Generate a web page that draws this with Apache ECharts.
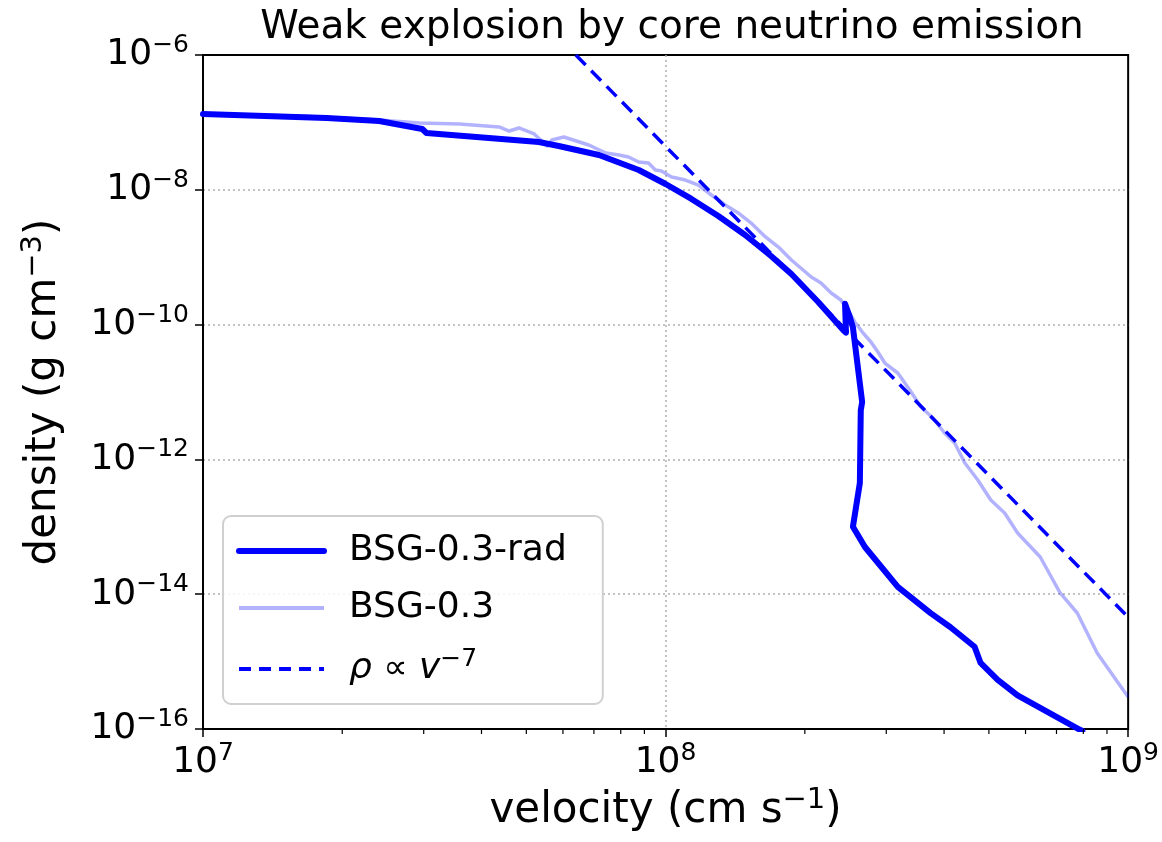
<!DOCTYPE html>
<html><head><meta charset="utf-8">
<script src="https://cdn.jsdelivr.net/npm/echarts@6/dist/echarts.min.js"></script>
<style>html,body{margin:0;padding:0;background:#fff}#c{width:1162px;height:842px}</style>
</head><body><div id="c"></div>
<script>
// log10 of velocity (cm/s) and density (g/cm^3)
const radLogV   = [7.000, 7.267, 7.381, 7.474, 7.483, 7.726, 7.769, 7.856, 7.942, 8.000, 8.056, 8.114, 8.172, 8.228, 8.272, 8.330, 8.384, 8.390, 8.388, 8.397, 8.405, 8.425, 8.422, 8.420, 8.405, 8.431, 8.502, 8.573, 8.616, 8.668, 8.681, 8.718, 8.761, 8.890, 8.901];
const radLogRho = [-6.875, -6.935, -6.979, -7.098, -7.157, -7.291, -7.350, -7.484, -7.706, -7.914, -8.136, -8.389, -8.671, -8.982, -9.249, -9.665, -10.08, -10.12, -9.69, -9.86, -10.04, -11.15, -11.27, -12.35, -13.00, -13.30, -13.89, -14.28, -14.49, -14.78, -15.02, -15.27, -15.50, -15.99, -16.03];

const bsgLogV   = [7.000, 7.209, 7.381, 7.468, 7.554, 7.640, 7.662, 7.683, 7.716, 7.744, 7.754, 7.780, 7.834, 7.871, 7.899, 7.920, 7.942, 7.963, 7.978, 7.991, 8.013, 8.043, 8.071, 8.099, 8.129, 8.157, 8.185, 8.216, 8.244, 8.272, 8.315, 8.336, 8.358, 8.379, 8.394, 8.409, 8.427, 8.444, 8.459, 8.474, 8.502, 8.528, 8.552, 8.578, 8.603, 8.625, 8.647, 8.675, 8.703, 8.733, 8.761, 8.810, 8.853, 8.890, 8.933, 9.000];
const bsgLogRho = [-6.875, -6.905, -6.964, -7.009, -7.024, -7.068, -7.128, -7.083, -7.172, -7.350, -7.261, -7.217, -7.335, -7.454, -7.484, -7.513, -7.588, -7.602, -7.706, -7.721, -7.810, -7.855, -7.929, -8.077, -8.226, -8.344, -8.493, -8.700, -8.849, -9.042, -9.294, -9.383, -9.531, -9.635, -9.783, -9.961, -10.125, -10.258, -10.407, -10.570, -10.718, -10.970, -11.223, -11.386, -11.608, -11.757, -12.053, -12.306, -12.602, -12.795, -13.092, -13.448, -13.982, -14.279, -14.872, -15.525];

const powLogV   = [7.806, 9.0];
const powLogRho = [-6.0, -14.34];

const xMinorTicks = [2e7, 3e7, 4e7, 5e7, 6e7, 7e7, 8e7, 9e7, 2e8, 3e8, 4e8, 5e8, 6e8, 7e8, 8e8, 9e8];

const seriesNames = ['BSG-0.3-rad', 'BSG-0.3', 'rho ∝ v^-7'];
const xMin = 7, xMax = 9, yMin = -16, yMax = -6;

const FONT = 'DejaVu Sans';
const BLUE = '#0000ff', LIGHT = 'rgba(0,0,255,0.3)';
const zip = (a, b) => a.map((v, i) => [v, b[i]]);
const sup = n => '{b|10}{s|' + String(n).replace('-', '\u2212') + '}';
const tickRich = {
  b: {fontSize: 36, fontFamily: FONT, color: '#000', lineHeight: 44},
  s: {fontSize: 25, fontFamily: FONT, color: '#000', lineHeight: 26, verticalAlign: 'top'}
};
const nameRich = {
  n: {fontSize: 42, fontFamily: FONT, color: '#000', lineHeight: 50},
  s: {fontSize: 29, fontFamily: FONT, color: '#000', lineHeight: 30, verticalAlign: 'top'}
};
const gridLine = {show: true, showMinLine: false, showMaxLine: false,
  lineStyle: {color: '#b0b0b0', width: 1.5, type: [2, 3]}};

const chart = echarts.init(document.getElementById('c'), null, {renderer: 'canvas'});
chart.setOption({
  animation: false,
  backgroundColor: '#fff',
  title: {
    text: 'Weak explosion by core neutrino emission',
    left: 667, top: 3, textAlign: 'center',
    textStyle: {fontFamily: FONT, fontSize: 39, fontWeight: 'normal', color: '#000'}
  },
  grid: {left: 203, right: 31, top: 55, bottom: 113, show: true, borderColor: '#000', borderWidth: 2, backgroundColor: 'transparent'},
  xAxis: {
    type: 'value', min: xMin, max: xMax, interval: 1,
    name: '{n|velocity (cm s}{s|\u22121}{n|)}',
    nameLocation: 'middle', nameGap: 54,
    nameTextStyle: {rich: nameRich},
    axisLine: {show: true, lineStyle: {color: '#000', width: 2}},
    axisTick: {show: true, length: 8, lineStyle: {color: '#000', width: 1.5}},
    axisLabel: {margin: 12, formatter: v => sup(v), rich: tickRich},
    splitLine: gridLine
  },
  yAxis: {
    type: 'value', min: yMin, max: yMax, interval: 2,
    name: '{n|density (g cm}{s|\u22123}{n|)}',
    nameLocation: 'middle', nameGap: 134,
    nameTextStyle: {rich: nameRich},
    axisLine: {show: true, lineStyle: {color: '#000', width: 2}},
    axisTick: {show: true, length: 8, lineStyle: {color: '#000', width: 1.5}},
    axisLabel: {margin: 14, formatter: v => sup(v), rich: tickRich},
    splitLine: gridLine
  },
  legend: {
    data: [
      {name: seriesNames[0], lineStyle: {width: 6, color: BLUE}},
      {name: seriesNames[1], lineStyle: {width: 4, color: LIGHT}},
      {name: seriesNames[2], lineStyle: {width: 4, color: BLUE, type: [12, 8]}}
    ],
    orient: 'vertical', left: 223, top: 516,
    backgroundColor: 'rgba(255,255,255,0.85)',
    borderColor: '#d0d0d0', borderWidth: 2, borderRadius: 8,
    padding: [17, 36, 17, 13],
    itemWidth: 85, itemHeight: 20, itemGap: 21,
    itemStyle: {opacity: 0, borderWidth: 0},
    textStyle: {fontFamily: FONT, fontSize: 36, color: '#000', padding: [0, 0, 0, 20],
      rich: {
        i: {fontFamily: FONT, fontStyle: 'italic', fontSize: 36, color: '#000', lineHeight: 44},
        t: {fontFamily: FONT, fontSize: 34, color: '#000', lineHeight: 44},
        s: {fontFamily: FONT, fontSize: 25, color: '#000', lineHeight: 26, verticalAlign: 'top'}
      }
    },
    formatter: n => n === seriesNames[2] ? '{i|ρ} {t|∝} {i|v}{s|\u22127}' : n
  },
  series: [
    {
      name: seriesNames[0], type: 'line', data: zip(radLogV, radLogRho),
      symbol: 'none', showSymbol: false, clip: true,
      lineStyle: {color: BLUE, width: 6, join: 'round', cap: 'round'},
      itemStyle: {color: BLUE}, z: 3
    },
    {
      name: seriesNames[1], type: 'line', data: zip(bsgLogV, bsgLogRho),
      symbol: 'none', showSymbol: false, clip: true,
      lineStyle: {color: LIGHT, width: 3.5, join: 'round'},
      itemStyle: {color: LIGHT}, z: 4
    },
    {
      name: seriesNames[2], type: 'line', data: zip(powLogV, powLogRho),
      symbol: 'none', showSymbol: false, clip: true,
      lineStyle: {color: BLUE, width: 3.5, type: [14, 8]},
      itemStyle: {color: BLUE}, z: 5
    },
    {
      type: 'custom', silent: true, clip: false, z: 6,
      data: xMinorTicks.map(v => [Math.log10(v), yMin]),
      encode: {x: 0, y: 1},
      renderItem: (params, api) => {
        const p = api.coord([api.value(0), yMin]);
        return {type: 'line', shape: {x1: p[0], y1: p[1], x2: p[0], y2: p[1] + 5},
          style: {stroke: '#000', lineWidth: 1.2}};
      }
    }
  ]
});
</script></body></html>
